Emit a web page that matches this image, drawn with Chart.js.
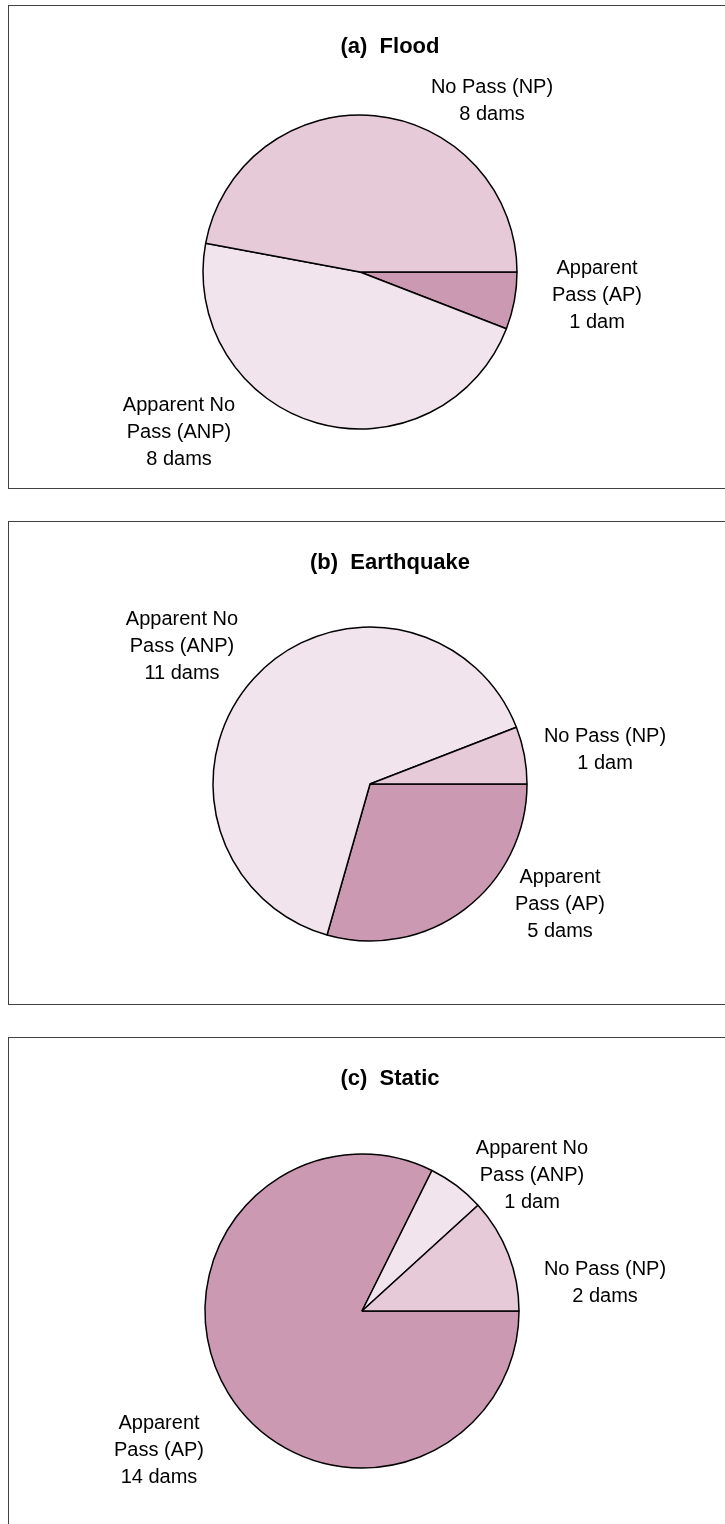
<!DOCTYPE html>
<html>
<head>
<meta charset="utf-8">
<script src="https://cdn.jsdelivr.net/npm/chart.js@4.4.1/dist/chart.umd.min.js"></script>
<style>
    html, body { margin: 0; padding: 0; background: #fff; overflow: hidden; }
    .panel { position: absolute; left: 8px; width: 762px; height: 482px; border: 1px solid #404040; }
    .panel canvas { display: block; }
</style>
</head>
<body>
<div class="panel" style="top:5px"><canvas id="chartFlood" width="762" height="482"></canvas></div>
<div class="panel" style="top:521px"><canvas id="chartQuake" width="762" height="482"></canvas></div>
<div class="panel" style="top:1037px; height:492px"><canvas id="chartStatic" width="762" height="492"></canvas></div>
<script>
// slices go clockwise from 3 o'clock in this order
var categories = ['Apparent Pass (AP)', 'Apparent No Pass (ANP)', 'No Pass (NP)'];
var categoryLines = [['Apparent', 'Pass (AP)'], ['Apparent No', 'Pass (ANP)'], ['No Pass (NP)']];
var panelTitles = ['(a)  Flood', '(b)  Earthquake', '(c)  Static'];
var floodDams = [1, 8, 8];
var earthquakeDams = [5, 11, 1];
var staticDams = [14, 1, 2];
var sliceColors = ['#cc99b3', '#f2e4ec', '#e6cad8'];

// where each pie sits in its panel, and where its labels go (px from pie centre)
var pieCentres = [[351, 266], [361, 262], [353, 273]];
var pieRadius = 157;
var labelOffsets = [
    [[237, 23], [-181, 160], [132, -171]],
    [[190, 120], [-188, -138], [235, -34]],
    [[-203, 139], [170, -136], [243, -28]]
];

var panelText = {
    id: 'panelText',
    afterDraw: function(chart) {
        var ctx = chart.ctx;
        var idx = chart.options.plugins.panelText.index;
        ctx.save();
        ctx.fillStyle = '#000';
        ctx.textAlign = 'center';
        ctx.textBaseline = 'middle';
        ctx.font = 'bold 22px "Liberation Sans", Arial, sans-serif';
        ctx.fillText(panelTitles[idx], chart.width / 2, 41);

        ctx.font = '20px "Liberation Sans", Arial, sans-serif';
        var meta = chart.getDatasetMeta(0);
        var values = chart.data.datasets[0].data;
        meta.data.forEach(function(arc, i) {
            var n = values[i];
            var lines = categoryLines[i].concat([n + (n === 1 ? ' dam' : ' dams')]);
            var x = arc.x + labelOffsets[idx][i][0];
            var y = arc.y + labelOffsets[idx][i][1] - (lines.length - 1) * 27 / 2;
            lines.forEach(function(line, k) {
                ctx.fillText(line, x, y + k * 27);
            });
        });
        ctx.restore();
    }
};

function makePie(id, values, idx) {
    var canvas = document.getElementById(id);
    var W = canvas.width, H = canvas.height;
    var cx = pieCentres[idx][0], cy = pieCentres[idx][1];
    return new Chart(canvas, {
        type: 'pie',
        data: {
            labels: categories,
            datasets: [{
                data: values,
                backgroundColor: sliceColors,
                borderColor: '#000',
                borderWidth: 1.5,
                hoverOffset: 0
            }]
        },
        options: {
            responsive: false,
            animation: false,
            rotation: 90,
            radius: pieRadius,
            layout: {
                padding: { left: 0, right: W - 2 * cx, top: cy - 170, bottom: H - cy - 170 }
            },
            plugins: {
                legend: { display: false },
                title: { display: false },
                tooltip: { enabled: false },
                panelText: { index: idx }
            }
        },
        plugins: [panelText]
    });
}

makePie('chartFlood', floodDams, 0);
makePie('chartQuake', earthquakeDams, 1);
makePie('chartStatic', staticDams, 2);
</script>
</body>
</html>
